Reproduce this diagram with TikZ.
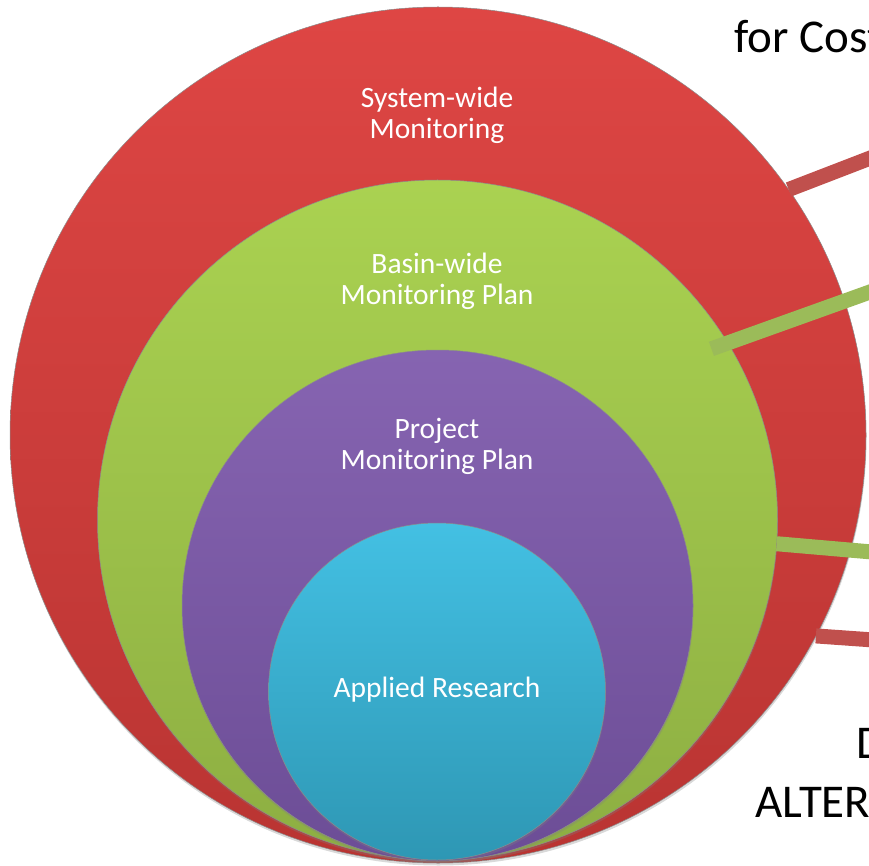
\documentclass[tikz,border=0pt]{standalone}
\usepackage{fontspec}
\setmainfont{Carlito}
\usepackage{xcolor}
\usepackage{tikz}
\usetikzlibrary{calc,shadows}
\definecolor{sysred-top}{HTML}{DE4644}
\definecolor{sysred-bot}{HTML}{B93432}
\definecolor{basin-top}{HTML}{AAD251}
\definecolor{basin-bot}{HTML}{8DAE42}
\definecolor{proj-top}{HTML}{8664B1}
\definecolor{proj-bot}{HTML}{6C4D96}
\definecolor{appl-top}{HTML}{43C0E3}
\definecolor{appl-bot}{HTML}{2E97B4}
\definecolor{barred}{HTML}{C0504D}
\definecolor{bargreen}{HTML}{9BBB59}

\begin{document}
\begin{tikzpicture}[x=1pt, y=-1pt,
  disc/.style={circle, inner sep=0pt, outer sep=0pt, draw=black!45, line width=0.5pt,
    drop shadow={opacity=0.3, shadow xshift=0.5pt, shadow yshift=-2.5pt}},
  lbl/.style={align=center, text=white, font=\fontsize{29.5}{31}\selectfont},
  big/.style={font=\fontsize{47}{50}\selectfont, anchor=base west},
  rbar/.style={barred, line width=15pt},
  gbar/.style={bargreen, line width=15pt}
]
  \useasboundingbox (0,0) rectangle (869,866);
  \clip (0,0) rectangle (869,866);

  \node[big] (forcost) at (731,53) {for Cost};
  \node[big] (dtext) at (853,758) {D};
  \node[big] (alter) at (752,817) {ALTER};

  \coordinate (redtopend) at (895,148.5);
  \coordinate (redlowend) at (895,641.5);
  \coordinate (greentopend) at (895,283);
  \coordinate (greenlowend) at (895,554);

  \node[disc, minimum size=856pt, top color=sysred-top, bottom color=sysred-bot] (sysmon) at (438,435) {};
  \node[disc, minimum size=680pt, top color=basin-top, bottom color=basin-bot] (basin) at (437.5,520) {};
  \node[disc, minimum size=511pt, top color=proj-top, bottom color=proj-bot] (project) at (437.5,605.5) {};
  \node[disc, minimum size=337pt, top color=appl-top, bottom color=appl-bot] (applied) at (437,691.5) {};

  \node[lbl] (sysmonlbl) at (437,115) {System-wide\\Monitoring};
  \node[lbl] (basinlbl) at (437,281) {Basin-wide\\Monitoring Plan};
  \node[lbl] (projectlbl) at (437,446) {Project\\Monitoring Plan};
  \node[lbl] (appliedlbl) at (437,690) {Applied Research};

  \draw[rbar] (sysmon.35.5) -- (redtopend);
  \draw[rbar] (sysmon.-28.5) -- (redlowend);
  \draw[gbar] ($(basin.center)!0.95!(basin.32.5)$) -- (greentopend);
  \draw[gbar] (basin.-4) -- (greenlowend);
\end{tikzpicture}
\end{document}
